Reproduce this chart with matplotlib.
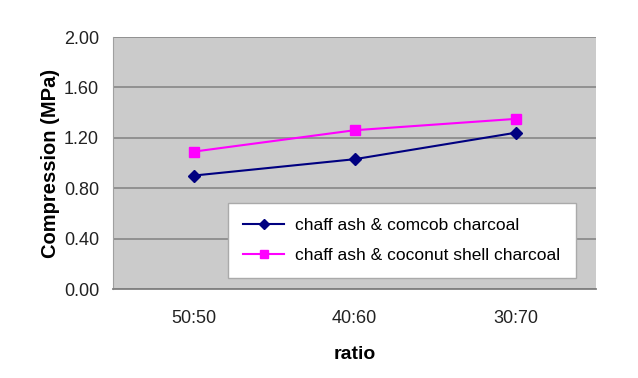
import matplotlib
matplotlib.use("Agg")
import matplotlib.pyplot as plt

categories = ["50:50", "40:60", "30:70"]
corncob = [0.90, 1.03, 1.24]
coconut = [1.09, 1.26, 1.35]
yticks = [0.00, 0.40, 0.80, 1.20, 1.60, 2.00]

plt.rcParams['font.family'] = ['Liberation Sans', 'DejaVu Sans']

fig = plt.figure(figsize=(6.38, 3.78), dpi=100)
ax = fig.add_axes([113/638, 1-289/378, 483/638, 252/378])
ax.set_facecolor('#cbcbcb')

x = list(range(len(categories)))
ax.plot(x, corncob, color='#000080', marker='D', markersize=6.5, linewidth=1.5,
        label='chaff ash & comcob charcoal', zorder=3)
ax.plot(x, coconut, color='#ff00ff', marker='s', markersize=6.5, linewidth=1.5,
        label='chaff ash & coconut shell charcoal', zorder=3)

ax.set_xlim(-0.5, 2.5)
ax.set_ylim(0, 2.0)
ax.set_yticks(yticks)
ax.set_yticklabels([f"{v:.2f}" for v in yticks], fontsize=13)
ax.set_xticks(x)
ax.set_xticklabels(categories, fontsize=13)
ax.grid(axis='y', color='#8c8c8c', linewidth=1.3)
ax.set_axisbelow(True)
ax.tick_params(axis='y', length=0, pad=10, colors='#222222')
ax.tick_params(axis='x', length=0, pad=15, colors='#222222')
for s in ['top', 'right']:
    ax.spines[s].set_visible(False)
ax.spines['left'].set_color('#a0a0a0')
ax.spines['bottom'].set_color('#808080')
ax.spines['bottom'].set_linewidth(1.3)

ax.set_ylabel('Compression (MPa)', fontsize=14.5, fontweight='bold', labelpad=3)
ax.set_xlabel('ratio', fontsize=14, fontweight='bold', labelpad=14)

leg = ax.legend(loc='lower left', bbox_to_anchor=(0.238, 0.044, 0.72, 0.297),
                mode='expand', fontsize=12.5, frameon=True, fancybox=False,
                borderaxespad=0, handlelength=2.4, handletextpad=0.6,
                labelspacing=0.85, borderpad=0.85, markerscale=0.85)
leg.get_frame().set_edgecolor('#aaaaaa')
leg.get_frame().set_facecolor('white')
leg.get_frame().set_alpha(1)

fig.savefig('out.png', dpi=100)
